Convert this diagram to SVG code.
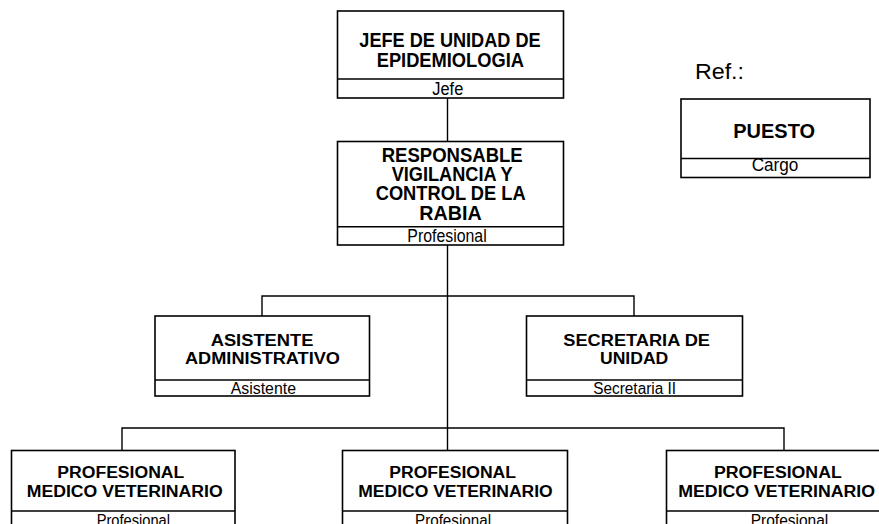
<svg xmlns="http://www.w3.org/2000/svg" width="879" height="524" viewBox="0 0 879 524">
<style>
.box{fill:#fff;stroke:#000;stroke-width:1.6}
.div{stroke:#000;stroke-width:1.6}
.con{stroke:#000;stroke-width:1.4;fill:none}
.t1{font-family:"Liberation Sans",Arial,sans-serif;font-weight:bold;font-size:20px;fill:#000}
.t2{font-family:"Liberation Sans",Arial,sans-serif;font-weight:bold;font-size:16px;fill:#000}
.s1{font-family:"Liberation Sans",Arial,sans-serif;font-size:17.5px;fill:#000}
.s2{font-family:"Liberation Sans",Arial,sans-serif;font-size:16px;fill:#000}
.ref{font-family:"Liberation Sans",Arial,sans-serif;font-size:22px;fill:#000}
</style>
<rect width="879" height="524" fill="#fff"/>
<g id="connectors">
<line class="con" x1="447.5" y1="98" x2="447.5" y2="141.5"/>
<line class="con" x1="447.5" y1="245" x2="447.5" y2="450.5"/>
<polyline class="con" points="262,316 262,296 634,296 634,316"/>
<polyline class="con" points="122,450.5 122,428 784,428 784,450.5"/>
</g>
<g id="jefe">
<rect class="box" x="337.5" y="11" width="226" height="87"/>
<line class="div" x1="337.5" y1="79" x2="563.5" y2="79"/>
<text class="t1" x="359.3" y="46.7" textLength="181.3" lengthAdjust="spacingAndGlyphs">JEFE DE UNIDAD DE</text>
<text class="t1" x="376.7" y="66.7" textLength="147.3" lengthAdjust="spacingAndGlyphs">EPIDEMIOLOGIA</text>
<text class="s1" x="432.3" y="95" textLength="31" lengthAdjust="spacingAndGlyphs">Jefe</text>
</g>
<g id="responsable">
<rect class="box" x="337.5" y="141.5" width="226" height="103.5"/>
<line class="div" x1="337.5" y1="226.7" x2="563.5" y2="226.7"/>
<text class="t1" x="381.7" y="161.7" textLength="141" lengthAdjust="spacingAndGlyphs">RESPONSABLE</text>
<text class="t1" x="391.7" y="180.5" textLength="121" lengthAdjust="spacingAndGlyphs">VIGILANCIA Y</text>
<text class="t1" x="375.7" y="200" textLength="150" lengthAdjust="spacingAndGlyphs">CONTROL DE LA</text>
<text class="t1" x="419.3" y="220" textLength="62.4" lengthAdjust="spacingAndGlyphs">RABIA</text>
<text class="s1" x="407.3" y="241.7" textLength="79.4" lengthAdjust="spacingAndGlyphs">Profesional</text>
</g>
<g id="referencia">
<text class="ref" x="695" y="79" textLength="49" lengthAdjust="spacingAndGlyphs">Ref.:</text>
<rect class="box" x="681" y="99" width="189" height="78.5"/>
<line class="div" x1="681" y1="158.5" x2="870" y2="158.5"/>
<text class="t1" x="733.3" y="138.3" textLength="81.7" lengthAdjust="spacingAndGlyphs">PUESTO</text>
<text class="s1" x="751.7" y="171" textLength="46.7" lengthAdjust="spacingAndGlyphs">Cargo</text>
</g>
<g id="asistente">
<rect class="box" x="155" y="316" width="214.5" height="80"/>
<line class="div" x1="155" y1="380" x2="369.5" y2="380"/>
<text class="t2" x="210.7" y="346" textLength="102.7" lengthAdjust="spacingAndGlyphs">ASISTENTE</text>
<text class="t2" x="185" y="364.3" textLength="155" lengthAdjust="spacingAndGlyphs">ADMINISTRATIVO</text>
<text class="s2" x="230.7" y="394" textLength="65.3" lengthAdjust="spacingAndGlyphs">Asistente</text>
</g>
<g id="secretaria">
<rect class="box" x="526.5" y="316" width="216" height="80"/>
<line class="div" x1="526.5" y1="380" x2="742.5" y2="380"/>
<text class="t2" x="563.3" y="346" textLength="146.7" lengthAdjust="spacingAndGlyphs">SECRETARIA DE</text>
<text class="t2" x="600" y="364.3" textLength="68.3" lengthAdjust="spacingAndGlyphs">UNIDAD</text>
<text class="s2" x="593.3" y="394" textLength="82.7" lengthAdjust="spacingAndGlyphs">Secretaria II</text>
</g>
<g id="veterinario1">
<rect class="box" x="11.5" y="450.5" width="223.5" height="90"/>
<line class="div" x1="11.5" y1="511" x2="235" y2="511"/>
<text class="t2" x="57.3" y="478.3" textLength="127" lengthAdjust="spacingAndGlyphs">PROFESIONAL</text>
<text class="t2" x="26.7" y="497.3" textLength="196" lengthAdjust="spacingAndGlyphs">MEDICO VETERINARIO</text>
<text class="s2" x="96.7" y="525.5" textLength="73.3" lengthAdjust="spacingAndGlyphs">Profesional</text>
</g>
<g id="veterinario2">
<rect class="box" x="342.5" y="450.5" width="225" height="90"/>
<line class="div" x1="342.5" y1="511" x2="567.5" y2="511"/>
<text class="t2" x="389.3" y="478.3" textLength="126.7" lengthAdjust="spacingAndGlyphs">PROFESIONAL</text>
<text class="t2" x="358.3" y="497.3" textLength="194.4" lengthAdjust="spacingAndGlyphs">MEDICO VETERINARIO</text>
<text class="s2" x="415" y="525.5" textLength="76" lengthAdjust="spacingAndGlyphs">Profesional</text>
</g>
<g id="veterinario3">
<rect class="box" x="666.5" y="450.5" width="225" height="90"/>
<line class="div" x1="666.5" y1="511" x2="891.5" y2="511"/>
<text class="t2" x="714" y="478.3" textLength="127.7" lengthAdjust="spacingAndGlyphs">PROFESIONAL</text>
<text class="t2" x="678.3" y="497.3" textLength="196.7" lengthAdjust="spacingAndGlyphs">MEDICO VETERINARIO</text>
<text class="s2" x="750.7" y="525.5" textLength="77.6" lengthAdjust="spacingAndGlyphs">Profesional</text>
</g>
</svg>
